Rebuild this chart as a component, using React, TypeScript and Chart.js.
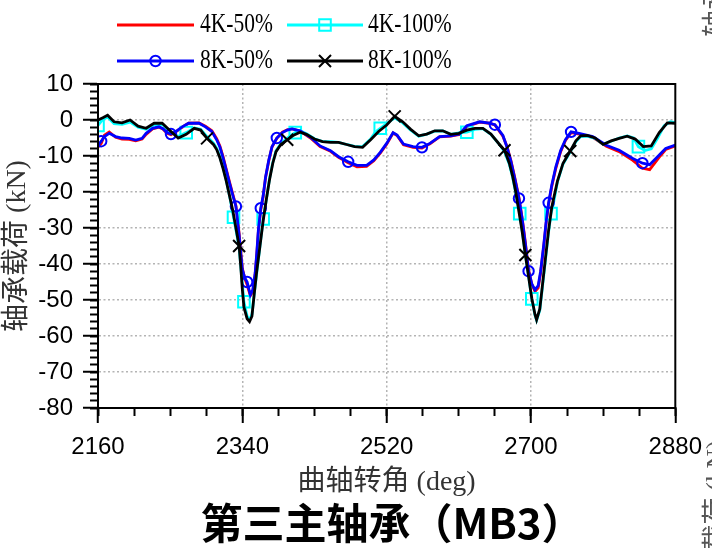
import React, { useEffect, useRef } from "react";
import { Chart, registerables } from "chart.js";

Chart.register(...registerables);

// ---------- data (crank angle in deg, bearing load in kN) ----------
const angles50 = [
  2160, 2164, 2168, 2174, 2182, 2190, 2199, 2207, 2215, 2220,
  2228, 2236, 2241, 2246, 2251, 2257, 2265, 2273, 2286, 2294,
  2302, 2308, 2312, 2316, 2320, 2324, 2328, 2332, 2334, 2336,
  2338, 2340, 2343, 2346, 2350, 2353, 2356, 2358, 2360, 2363,
  2366, 2369, 2373, 2377, 2383, 2390, 2396, 2402, 2412, 2425,
  2437, 2450, 2460, 2472, 2483, 2495, 2504, 2512, 2520, 2528,
  2533, 2541, 2553, 2564, 2574, 2586, 2600, 2611, 2620, 2636,
  2648, 2655, 2665, 2670, 2675, 2680, 2685, 2689, 2693, 2697,
  2701, 2705, 2709, 2712, 2716, 2719, 2722, 2726, 2731, 2737,
  2743, 2750, 2760, 2777, 2794, 2810, 2827, 2839, 2848, 2860,
  2868, 2880,
];

const load4K50 = [
  -7.5, -6.5, -4.2, -3.3, -4.8, -5.3, -5.4, -5.8, -5.3, -4.0,
  -2.5, -2.0, -2.5, -3.7, -4.1, -3.3, -2.0, -0.9, -0.8, -1.7,
  -3.0, -5.2, -7.2, -10.2, -13.7, -17.2, -20.5, -23.8, -27.5, -31.5,
  -36.5, -41.2, -44.0, -45.8, -48.8, -47.8, -43.0, -37.5, -31.0, -25.0,
  -21.3, -16.0, -11.3, -7.5, -5.1, -3.4, -2.7, -2.4, -3.1, -5.0,
  -7.4, -8.7, -10.4, -11.9, -13.0, -12.9, -11.3, -9.2, -6.7, -3.6,
  -4.3, -6.9, -7.6, -7.8, -6.6, -4.7, -4.5, -4.0, -1.8, -0.6,
  -0.9, -1.4, -4.5, -7.3, -11.3, -16.2, -21.5, -27.2, -34.0, -41.6,
  -45.6, -47.6, -46.6, -42.6, -35.0, -28.5, -23.4, -18.4, -13.4, -8.8,
  -5.7, -3.5, -3.9, -4.8, -7.3, -8.8, -11.2, -13.4, -13.8, -10.3,
  -8.2, -7.2,
];

const load8K50 = [
  -7.0, -5.9, -4.6, -3.7, -4.6, -5.0, -5.1, -5.6, -5.1, -3.7,
  -2.3, -1.9, -2.4, -3.5, -3.9, -3.2, -1.9, -0.9, -0.9, -1.9,
  -3.2, -5.5, -7.5, -10.5, -14.0, -17.5, -20.8, -24.0, -27.9, -32.0,
  -37.0, -41.5, -43.8, -45.0, -48.6, -47.2, -42.5, -37.0, -30.5, -24.5,
  -21.0, -15.8, -11.1, -7.4, -5.0, -3.5, -2.8, -2.5, -3.0, -4.8,
  -7.2, -8.5, -10.2, -11.6, -12.6, -12.6, -11.1, -9.0, -6.5, -3.5,
  -4.2, -6.7, -7.4, -7.6, -6.5, -4.6, -4.4, -3.9, -1.6, -0.5,
  -0.9, -1.3, -4.3, -7.5, -11.5, -16.5, -21.8, -27.5, -34.4, -42.0,
  -45.5, -47.2, -46.0, -42.0, -34.5, -28.0, -23.0, -18.0, -13.0, -8.5,
  -5.5, -3.3, -3.7, -4.6, -7.0, -8.4, -10.7, -12.0, -12.4, -9.7,
  -7.9, -7.0,
];
const marks8K50 = [2164, 2251, 2332, 2346, 2363, 2383, 2472, 2564, 2655, 2685, 2697, 2722, 2750, 2839];

const angles4K100 = [
  2160, 2166, 2172, 2180, 2190, 2200, 2210, 2220, 2230, 2240,
  2250, 2260, 2270, 2280, 2288, 2296, 2304, 2308, 2312, 2316,
  2320, 2324, 2329, 2332, 2336, 2339, 2342, 2346, 2349, 2352,
  2355, 2358, 2362, 2366, 2370, 2374, 2378, 2382, 2388, 2396,
  2406, 2412, 2420, 2430, 2440, 2450, 2460, 2470, 2480, 2490,
  2500, 2506, 2512, 2520, 2530, 2540, 2550, 2560, 2570, 2580,
  2590, 2600, 2610, 2620, 2630, 2640, 2650, 2660, 2667, 2673,
  2677, 2681, 2686, 2689, 2693, 2697, 2701, 2705, 2707, 2711,
  2714, 2718, 2722, 2725, 2728, 2733, 2740, 2749, 2756, 2762,
  2770, 2780, 2790, 2800, 2810, 2820, 2828, 2834, 2842, 2850,
  2858, 2866, 2874, 2880,
];
const load4K100 = [
  -1.5, 0.2, 0.8, -1.0, -1.2, -0.6, -2.0, -2.6, -1.3, -1.2,
  -3.2, -4.6, -3.5, -2.2, -2.6, -4.6, -6.4, -7.8, -10.2, -13.2,
  -16.8, -21.0, -27.0, -30.5, -35.5, -43.0, -50.5, -54.5, -55.5, -54.0,
  -48.0, -42.5, -35.0, -27.5, -22.0, -16.2, -11.8, -8.6, -6.6, -5.0,
  -3.5, -3.0, -3.8, -5.2, -6.0, -6.0, -6.2, -6.8, -7.3, -7.4,
  -5.3, -3.3, -2.3, -1.0, 0.6, -0.8, -2.8, -4.5, -3.9, -3.1,
  -3.0, -4.0, -3.6, -3.4, -2.6, -2.4, -4.0, -6.6, -8.8, -12.3,
  -15.8, -20.3, -26.0, -30.8, -37.3, -43.3, -49.7, -54.2, -55.6, -52.8,
  -47.0, -39.0, -31.0, -26.0, -23.2, -17.2, -12.2, -8.8, -6.0, -4.6,
  -4.5, -5.1, -6.7, -5.9, -5.0, -4.4, -5.0, -7.4, -8.5, -8.0,
  -5.0, -1.6, -0.5, -0.7,
];
const marks4K100 = [2160, 2270, 2329, 2342, 2366, 2406, 2512, 2620, 2686, 2701, 2725, 2834];

const angles8K100 = [
  2160, 2166, 2172, 2180, 2190, 2200, 2210, 2220, 2230, 2240,
  2250, 2260, 2270, 2280, 2288, 2296, 2304, 2308, 2312, 2316,
  2320, 2324, 2328, 2332, 2336, 2338, 2340, 2342, 2346, 2349,
  2352, 2355, 2358, 2362, 2366, 2370, 2374, 2378, 2382, 2388,
  2396, 2404, 2412, 2420, 2430, 2440, 2450, 2460, 2470, 2480,
  2490, 2500, 2510, 2520, 2530, 2540, 2550, 2560, 2570, 2580,
  2590, 2600, 2610, 2620, 2630, 2640, 2650, 2660, 2667, 2673,
  2677, 2681, 2685, 2689, 2693, 2697, 2701, 2705, 2707, 2711,
  2714, 2718, 2722, 2726, 2733, 2740, 2749, 2756, 2762, 2770,
  2780, 2790, 2800, 2810, 2820, 2830, 2840, 2850, 2860, 2870,
  2880,
];
const load8K100 = [
  0, 0.6, 1.3, -0.5, -0.8, 0, -1.7, -2.3, -0.9, -0.9,
  -3.0, -5.0, -4.0, -2.3, -2.8, -5.1, -6.8, -8.2, -10.5, -13.5,
  -17.0, -21.0, -25.0, -30.0, -35.0, -40.5, -47.0, -52.0, -55.2, -56.0,
  -54.5, -48.0, -42.0, -35.0, -28.0, -22.0, -16.5, -12.0, -8.8, -6.8,
  -5.5, -4.2, -3.4, -4.0, -5.3, -6.0, -6.2, -6.2, -6.8, -7.4,
  -7.6, -5.5, -3.2, -1.4, 1.0, -0.5, -2.6, -4.4, -3.9, -3.0,
  -3.0, -4.0, -3.7, -2.8, -2.3, -2.3, -3.9, -6.6, -8.4, -12.0,
  -15.5, -20.0, -25.5, -31.0, -37.5, -43.5, -49.5, -54.0, -55.5, -52.5,
  -46.5, -38.5, -30.6, -24.1, -17.0, -12.0, -8.6, -5.8, -4.4, -4.3,
  -5.0, -6.8, -5.8, -5.1, -4.5, -5.3, -7.4, -7.2, -3.5, -0.8,
  -0.9,
];
const marks8K100 = [2296, 2336, 2396, 2530, 2667, 2693, 2749];

const seriesNames = ["4K-50%", "4K-100%", "8K-50%", "8K-100%"];
const seriesColors = ["#ff0000", "#00ffff", "#0000ff", "#000000"];

const X_MIN = 2160;
const X_MAX = 2880;
const X_STEP = 180;
const X_MINOR = 45;
const Y_MIN = -80;
const Y_MAX = 10;
const Y_STEP = 10;
const Y_MINOR = 2;

const TITLE = "第三主轴承（MB3）";
const X_TITLE = "曲轴转角 (deg)";
const Y_TITLE = "轴承载荷 (kN)";
const SIDE_TEXT = "轴承载荷 (kN)";

const SANS = '"Liberation Sans", Arial, sans-serif';
const SERIF = '"Liberation Serif", "Noto Sans CJK SC", serif';
const CJK_BOLD = '"Noto Sans CJK SC", sans-serif';
const GRID = "#b4b4b4";
const CLEAR = "rgba(0,0,0,0)";

const LINE_W = 2.8;
const SQUARE_R = 8.2; // side ~11.6 px
const CIRCLE_R = 5.2;
const CROSS_R = 8.5;

function toPoints(xs: number[], ys: number[]) {
  return xs.map((x, i) => ({ x, y: ys[i] }));
}
function markerRadius(marks: number[], r: number) {
  const set = new Set(marks);
  return (ctx: any) => (ctx.raw && set.has(ctx.raw.x) ? r : 0);
}

// legend (drawn on the canvas: line with marker in its middle)
function drawMarker(ctx: CanvasRenderingContext2D, style: string, x: number, y: number, color: string) {
  ctx.save();
  ctx.strokeStyle = color;
  ctx.lineWidth = 2;
  ctx.beginPath();
  if (style === "rect") {
    const h = SQUARE_R * Math.SQRT1_2;
    ctx.rect(x - h, y - h, 2 * h, 2 * h);
  } else if (style === "circle") {
    ctx.arc(x, y, CIRCLE_R, 0, Math.PI * 2);
  } else if (style === "crossRot") {
    const h = CROSS_R * Math.SQRT1_2;
    ctx.moveTo(x - h, y - h);
    ctx.lineTo(x + h, y + h);
    ctx.moveTo(x + h, y - h);
    ctx.lineTo(x - h, y + h);
  }
  ctx.stroke();
  ctx.restore();
}

const overlayPlugin = {
  id: "overlay",
  afterDraw(chart: any) {
    const { ctx, chartArea: a } = chart;
    ctx.save();
    // frame around plot
    ctx.strokeStyle = "#000";
    ctx.lineWidth = 2;
    ctx.strokeRect(a.left, a.top, a.right - a.left, a.bottom - a.top);

    // legend
    const cols = [
      { x0: 117, x1: 194, tx: 200 },
      { x0: 287, x1: 363, tx: 368 },
    ];
    const rows = [25, 61];
    const styles = ["none", "rect", "circle", "crossRot"];
    seriesNames.forEach((name, i) => {
      const c = cols[i % 2];
      const y = rows[Math.floor(i / 2)];
      const color = seriesColors[i];
      ctx.save();
      ctx.strokeStyle = color;
      ctx.lineWidth = LINE_W;
      ctx.beginPath();
      ctx.moveTo(c.x0, y);
      ctx.lineTo(c.x1, y);
      ctx.stroke();
      ctx.restore();
      if (styles[i] !== "none") drawMarker(ctx, styles[i], (c.x0 + c.x1) / 2, y, color);
      ctx.save();
      ctx.translate(c.tx, y);
      ctx.scale(1, 1.25);
      ctx.fillStyle = "#000";
      ctx.font = `21.5px ${SERIF}`;
      ctx.textAlign = "left";
      ctx.textBaseline = "middle";
      ctx.fillText(name, 0, 0);
      ctx.restore();
    });

    // main title
    ctx.fillStyle = "#000";
    ctx.font = `bold 42px ${CJK_BOLD}`;
    ctx.textAlign = "center";
    ctx.textBaseline = "middle";
    ctx.fillText(TITLE, 392, 523);

    // cropped neighbour labels at the right edge
    ctx.fillStyle = "#555";
    ctx.font = `27px ${SERIF}`;
    ctx.save();
    ctx.translate(718, 37);
    ctx.rotate(-Math.PI / 2);
    ctx.textAlign = "left";
    ctx.textBaseline = "middle";
    ctx.fillText(SIDE_TEXT, 0, 0);
    ctx.restore();
    ctx.save();
    ctx.translate(718, 440);
    ctx.rotate(-Math.PI / 2);
    ctx.textAlign = "right";
    ctx.textBaseline = "middle";
    ctx.fillText(SIDE_TEXT, 0, 0);
    ctx.restore();

    ctx.restore();
  },
};

export default function App() {
  const ref = useRef<HTMLCanvasElement | null>(null);

  useEffect(() => {
    if (!ref.current) return;
    Chart.defaults.font.family = SANS;

    const base = {
      fill: false,
      tension: 0,
      borderWidth: LINE_W,
      pointBorderWidth: 2,
      pointBackgroundColor: CLEAR,
      pointHoverRadius: 0,
      xAxisID: "x",
      yAxisID: "y",
    };

    const chart = new Chart(ref.current, {
      type: "line",
      data: {
        datasets: [
          {
            ...base,
            label: seriesNames[0],
            data: toPoints(angles50, load4K50),
            borderColor: seriesColors[0],
            pointRadius: 0,
            order: 4,
          },
          {
            ...base,
            label: seriesNames[1],
            data: toPoints(angles4K100, load4K100),
            borderColor: seriesColors[1],
            pointBorderColor: seriesColors[1],
            pointStyle: "rect",
            pointRadius: markerRadius(marks4K100, SQUARE_R),
            order: 3,
          },
          {
            ...base,
            label: seriesNames[2],
            data: toPoints(angles50, load8K50),
            borderColor: seriesColors[2],
            pointBorderColor: seriesColors[2],
            pointStyle: "circle",
            pointRadius: markerRadius(marks8K50, CIRCLE_R),
            order: 2,
          },
          {
            ...base,
            label: seriesNames[3],
            data: toPoints(angles8K100, load8K100),
            borderColor: seriesColors[3],
            pointBorderColor: seriesColors[3],
            pointStyle: "crossRot",
            pointRadius: markerRadius(marks8K100, CROSS_R),
            order: 1,
          },
        ] as any,
      },
      options: {
        responsive: false,
        animation: false,
        devicePixelRatio: 1,
        events: [],
        layout: { padding: { top: 84, right: 36, bottom: 0, left: 0 } },
        plugins: {
          legend: { display: false },
          title: { display: false },
          tooltip: { enabled: false },
        },
        scales: {
          x: {
            type: "linear",
            position: "bottom",
            min: X_MIN,
            max: X_MAX,
            ticks: {
              stepSize: X_STEP,
              autoSkip: false,
              maxRotation: 0,
              color: "#000",
              padding: 10,
              font: { family: SANS, size: 24 },
              callback: (v: any) => String(v),
            },
            grid: {
              color: (c: any) =>
                c.tick && (c.tick.value === X_MIN || c.tick.value === X_MAX) ? CLEAR : GRID,
              lineWidth: 1.5,
              drawTicks: true,
              tickLength: 15,
              tickColor: "#000",
              tickWidth: 2,
            },
            border: { display: true, color: "#000", width: 2, dash: [2, 2.5] },
            title: {
              display: true,
              text: X_TITLE,
              color: "#333",
              font: { family: SERIF, size: 28 },
              padding: { top: 0, bottom: 49 },
            },
            afterFit: (s: any) => {
              s.height = 140;
            },
          },
          y: {
            type: "linear",
            position: "left",
            min: Y_MIN,
            max: Y_MAX,
            ticks: {
              stepSize: Y_STEP,
              color: "#000",
              padding: 10,
              font: { family: SANS, size: 24 },
              callback: (v: any) => String(v),
            },
            grid: {
              color: (c: any) =>
                c.tick && (c.tick.value === Y_MIN || c.tick.value === Y_MAX) ? CLEAR : GRID,
              lineWidth: 1.5,
              drawTicks: true,
              tickLength: 15,
              tickColor: "#000",
              tickWidth: 2,
            },
            border: { display: true, color: "#000", width: 2, dash: [2, 2.5] },
            title: {
              display: true,
              text: Y_TITLE,
              color: "#333",
              font: { family: SERIF, size: 28 },
              padding: { top: 1, bottom: 0 },
            },
            afterFit: (s: any) => {
              s.width = 98;
            },
          },
          xMinor: {
            type: "linear",
            axis: "x",
            position: { y: Y_MIN },
            min: X_MIN,
            max: X_MAX,
            ticks: { display: false, stepSize: X_MINOR },
            grid: {
              drawOnChartArea: false,
              drawTicks: true,
              tickLength: 8,
              tickColor: "#000",
              tickWidth: 2,
            },
            border: { display: false },
          },
          yMinor: {
            type: "linear",
            axis: "y",
            position: { x: X_MIN },
            min: Y_MIN,
            max: Y_MAX,
            ticks: { display: false, stepSize: Y_MINOR },
            grid: {
              drawOnChartArea: false,
              drawTicks: true,
              tickLength: 8,
              tickColor: "#000",
              tickWidth: 2,
            },
            border: { display: false },
          },
        } as any,
      },
      plugins: [overlayPlugin],
    } as any);

    return () => chart.destroy();
  }, []);

  return (
    <div
      style={{
        position: "absolute",
        left: 0,
        top: 0,
        width: 712,
        height: 548,
        overflow: "hidden",
        background: "#fff",
      }}
    >
      <canvas ref={ref} width={712} height={548} style={{ display: "block", width: 712, height: 548 }} />
    </div>
  );
}
